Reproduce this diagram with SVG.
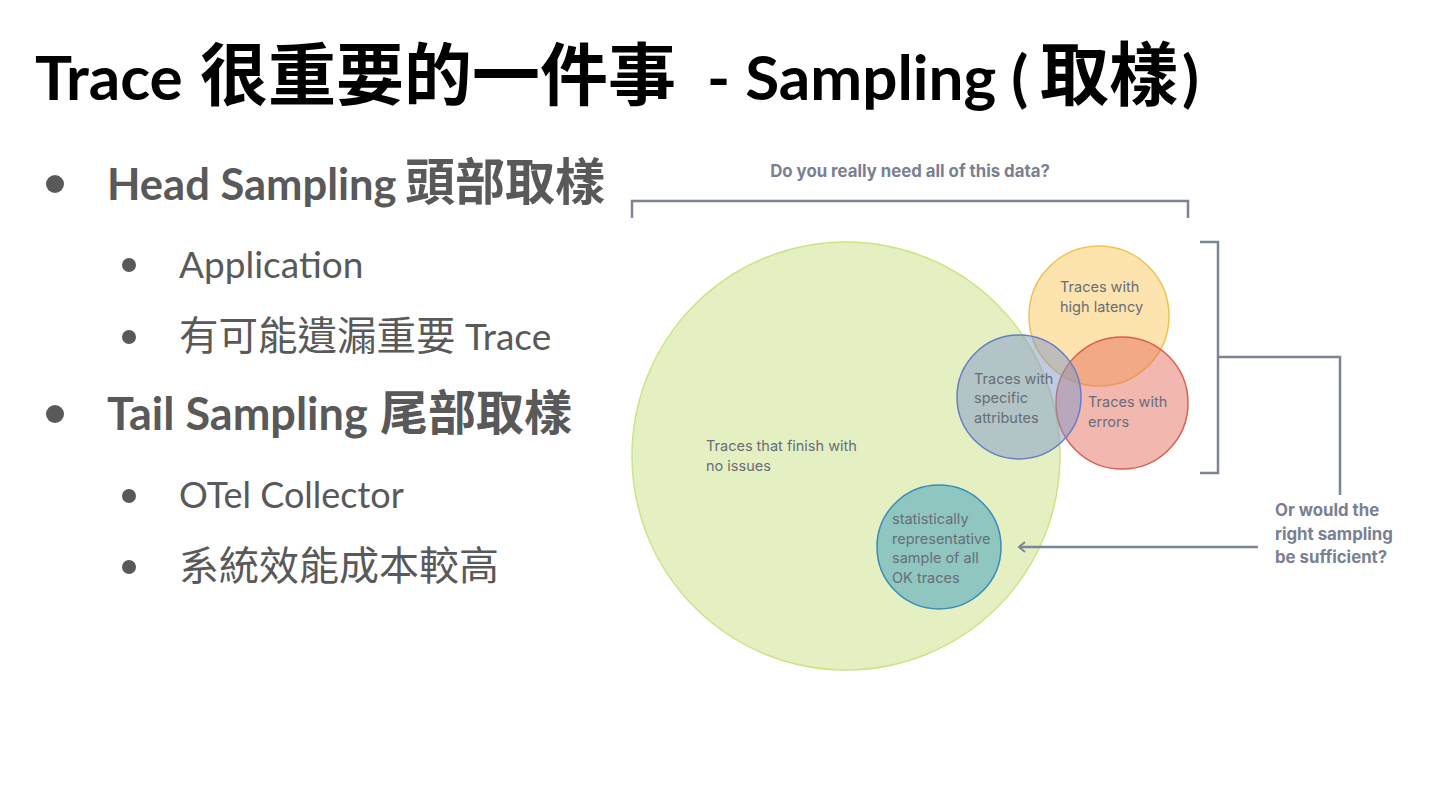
<svg xmlns="http://www.w3.org/2000/svg" width="1440" height="810" viewBox="0 0 1440 810">
<style>
.title{font-family:Lato,"Noto Sans CJK TC",sans-serif;font-weight:bold;fill:#000}
.b1{font-family:Lato,"Noto Sans CJK TC",sans-serif;font-weight:bold;fill:#595959}
.b2{font-family:Lato,"Noto Sans CJK TC",sans-serif;fill:#595959}
.cjk{font-family:"Noto Sans CJK TC",sans-serif}
.dot{fill:#595959}
.lbl{font-family:Inter,"Liberation Sans",sans-serif;font-size:14.5px;fill:#686d78}
.q{font-family:Inter,"Liberation Sans",sans-serif;font-size:16.8px;font-weight:bold;fill:#7a8091}
.ln{fill:none;stroke:#7d8496;stroke-width:2.5}
</style>
<defs>
<marker id="arr" viewBox="0 0 12 12" refX="10" refY="6" markerWidth="12" markerHeight="12" markerUnits="userSpaceOnUse" orient="auto">
<path d="M4,1 L10,6 L4,11" fill="none" stroke="#7d8496" stroke-width="2"/>
</marker>
</defs>
<rect width="1440" height="810" fill="#fff"/>
<text class="title" x="35" y="100" font-size="62">Trace <tspan class="cjk" x="200" font-size="68">很重要的一件事</tspan><tspan x="707">- Sampling (</tspan><tspan class="cjk" x="1040" font-size="69">取樣</tspan><tspan x="1182">)</tspan></text>
<g id="bullets">
<circle class="dot" cx="55" cy="184" r="9"/>
<text class="b1" x="107" y="200" font-size="43.5">Head Sampling <tspan class="cjk" x="405" font-size="50">頭部取樣</tspan></text>
<circle class="dot" cx="129" cy="265" r="7"/>
<text class="b2" x="179" y="278" font-size="37">Application</text>
<circle class="dot" cx="129" cy="337" r="7"/>
<text class="b2" x="179" y="350" font-size="37"><tspan class="cjk" font-size="39.5">有可能遺漏重要</tspan> Trace</text>
<circle class="dot" cx="55" cy="414" r="9"/>
<text class="b1" x="107" y="430" font-size="45">Tail Sampling <tspan class="cjk" x="380" font-size="48">尾部取樣</tspan></text>
<circle class="dot" cx="129" cy="496" r="7"/>
<text class="b2" x="179" y="508" font-size="36">OTel Collector</text>
<circle class="dot" cx="129" cy="567" r="7"/>
<text class="b2" x="179" y="580" font-size="37"><tspan class="cjk" font-size="40">系統效能成本較高</tspan></text>
</g>
<g id="all-traces">
<circle cx="846" cy="456" r="214" fill="#e4f0c2" stroke="#cfe286" stroke-width="1.5"/>
<text class="lbl" x="706" y="451">Traces that finish with</text>
<text class="lbl" x="706" y="471">no issues</text>
</g>
<g id="high-latency">
<circle cx="1099" cy="316" r="70" fill="#fbc85e" fill-opacity="0.5" stroke="#eec24e" stroke-width="1.5"/>
<text class="lbl" x="1060" y="292">Traces with</text>
<text class="lbl" x="1060" y="312">high latency</text>
</g>
<g id="errors">
<circle cx="1122" cy="403" r="66" fill="#e5705e" fill-opacity="0.5" stroke="#d9604e" stroke-width="1.5"/>
<text class="lbl" x="1088" y="407">Traces with</text>
<text class="lbl" x="1088" y="427">errors</text>
</g>
<g id="attributes">
<circle cx="1019" cy="397" r="62" fill="#7f98c8" fill-opacity="0.5" stroke="#6a7cc8" stroke-width="1.5"/>
<text class="lbl" x="974" y="384">Traces with</text>
<text class="lbl" x="974" y="403">specific</text>
<text class="lbl" x="974" y="423">attributes</text>
</g>
<g id="sample">
<circle cx="939" cy="547" r="62" fill="#8fc6c0" stroke="#3a8cb8" stroke-width="1.5"/>
<text class="lbl" x="892" y="524">statistically</text>
<text class="lbl" x="892" y="544">representative</text>
<text class="lbl" x="892" y="563">sample of all</text>
<text class="lbl" x="892" y="583">OK traces</text>
</g>
<g id="question-all">
<text class="q" x="910" y="177" text-anchor="middle">Do you really need all of this data?</text>
</g>
<g id="question-sampling">
<text class="q" x="1275" y="516">Or would the</text>
<text class="q" x="1275" y="540">right sampling</text>
<text class="q" x="1275" y="563">be sufficient?</text>
</g>
<g id="connectors">
<path class="ln" d="M632,218 V201 H1188 V218"/>
<path class="ln" d="M1200,242 H1218 V473 H1200"/>
<path class="ln" d="M1218,357 H1340 V495"/>
<path class="ln" d="M1258,547 H1019" marker-end="url(#arr)"/>
</g>
</svg>
